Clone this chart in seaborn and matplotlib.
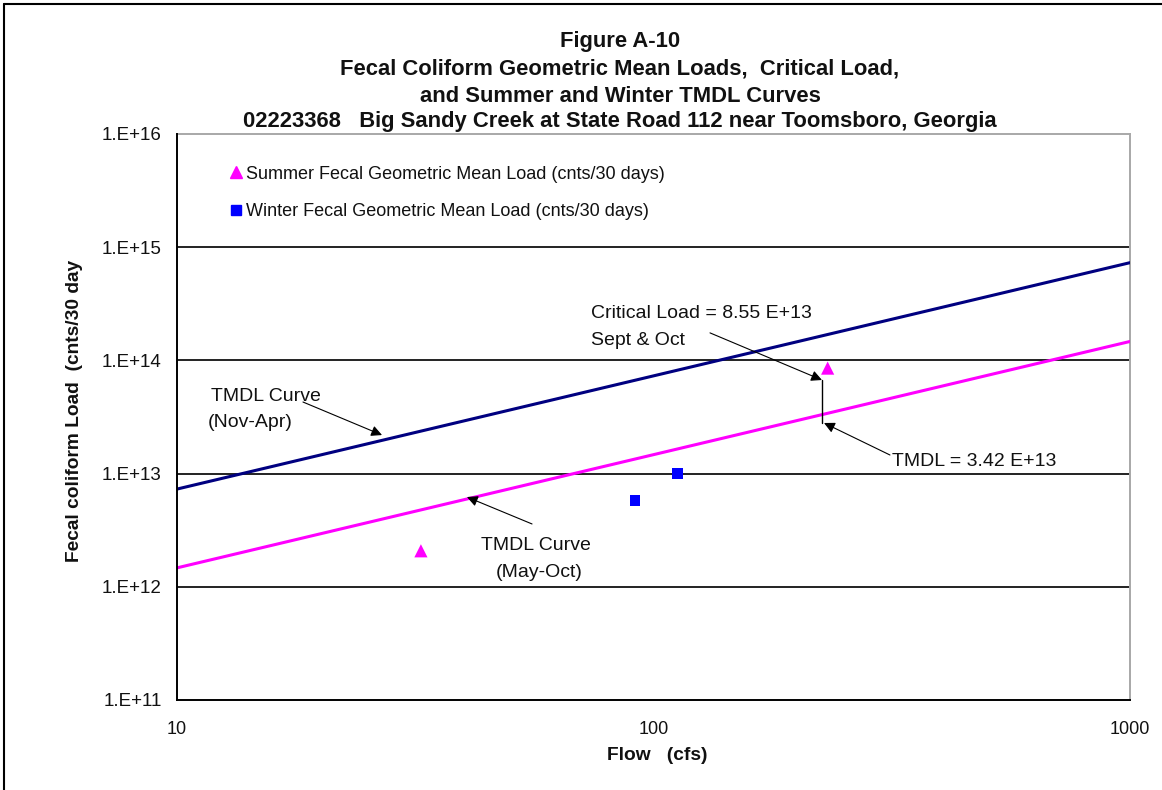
import matplotlib
matplotlib.use("Agg")
import matplotlib.pyplot as plt
import seaborn as sns
import pandas as pd
from matplotlib.lines import Line2D

# ---- data ----
curve_flow = [10, 1000]
winter_tmdl = [7.3e12, 7.3e14]   # TMDL Curve (Nov-Apr)
summer_tmdl = [1.47e12, 1.47e14]  # TMDL Curve (May-Oct)

summer_flow = [32.5, 232]
summer_load = [2.08e12, 8.55e13]
winter_flow = [91.4, 112.5]
winter_load = [5.78e12, 1.0e13]

y_ticks = [1e11, 1e12, 1e13, 1e14, 1e15, 1e16]
y_tick_labels = ["1.E+11", "1.E+12", "1.E+13", "1.E+14", "1.E+15", "1.E+16"]
x_ticks = [10, 100, 1000]
x_tick_labels = ["10", "100", "1000"]

title_lines = ["Figure A-10",
               "Fecal Coliform Geometric Mean Loads,  Critical Load,",
               "and Summer and Winter TMDL Curves",
               "02223368   Big Sandy Creek at State Road 112 near Toomsboro, Georgia"]

# annotation anchors (flow, load)
crit_flow = 225.7
crit_top, crit_bottom = 6.71e13, 2.80e13

sns.set_theme(style="white")
plt.rcParams["font.family"] = ["Liberation Sans", "DejaVu Sans"]

fig = plt.figure(figsize=(11.62, 7.90), dpi=100)
ax = fig.add_axes([177/1162, 1-700/790, (1130-177)/1162, (700-134)/790])

curves = pd.DataFrame({"flow": curve_flow * 2,
                       "load": winter_tmdl + summer_tmdl,
                       "curve": ["Nov-Apr"] * 2 + ["May-Oct"] * 2})
sns.lineplot(data=curves, x="flow", y="load", hue="curve",
             palette={"Nov-Apr": "#000080", "May-Oct": "#FF00FF"},
             linewidth=2.2, legend=False, ax=ax, zorder=3)

sns.scatterplot(x=summer_flow, y=summer_load, marker="^", s=90, color="#FF00FF",
                edgecolor="none", ax=ax, zorder=4)
sns.scatterplot(x=winter_flow, y=winter_load, marker="s", s=60, color="#0000FF",
                edgecolor="none", ax=ax, zorder=4)

ax.set_xscale("log")
ax.set_yscale("log")
ax.set_xlim(10, 1000)
ax.set_ylim(1e11, 1e16)
ax.set_xticks(x_ticks)
ax.set_xticklabels(x_tick_labels)
ax.set_yticks(y_ticks)
ax.set_yticklabels(y_tick_labels)
ax.minorticks_off()
ax.tick_params(axis="x", direction="out", length=5, width=1, colors="black",
               labelsize=13, pad=10, labelcolor="#111111")
ax.tick_params(axis="y", direction="inout", length=10, width=1, colors="black",
               labelsize=13.5, pad=6, labelcolor="#111111")
ax.set_xlabel("")
ax.set_ylabel("")

for y in y_ticks[1:-1]:
    ax.axhline(y, color="#222222", lw=1.4, zorder=1)

for s in ["left", "bottom"]:
    ax.spines[s].set_color("black")
    ax.spines[s].set_linewidth(1.4)
for s in ["top", "right"]:
    ax.spines[s].set_color("#a8a8a8")
    ax.spines[s].set_linewidth(1.4)
ax.spines["left"].set_zorder(5)

# legend
handles = [Line2D([], [], marker="^", color="#FF00FF", linestyle="none", markersize=9),
           Line2D([], [], marker="s", color="#0000FF", linestyle="none", markersize=7)]
labels = ["Summer Fecal Geometric Mean Load (cnts/30 days)",
          "Winter Fecal Geometric Mean Load (cnts/30 days)"]
leg = ax.legend(handles, labels, loc="upper left", bbox_to_anchor=(0.0378, 0.9726),
                frameon=False, handlelength=0.8, handletextpad=0.1,
                labelspacing=1.12, fontsize=13, borderpad=0.4)
for t in leg.get_texts():
    t.set_color("#111111")

# annotations
arrow_kw = dict(arrowstyle="-|>", color="black", lw=0.8, mutation_scale=16,
                shrinkA=0, shrinkB=0)
ax.annotate("", xy=(crit_flow, crit_top), xytext=(131.4, 1.75e14), arrowprops=arrow_kw)
ax.plot([crit_flow, crit_flow], [crit_top, crit_bottom], color="black", lw=1.0, zorder=5)
ax.annotate("", xy=(crit_flow * 1.01, crit_bottom), xytext=(313.5, 1.46e13), arrowprops=arrow_kw)
ax.annotate("", xy=(26.93, 2.19e13), xytext=(18.38, 4.29e13), arrowprops=arrow_kw)
ax.annotate("", xy=(40.6, 6.21e12), xytext=(55.6, 3.59e12), arrowprops=arrow_kw)

tfs = 14
ax.text(73.9, 2.62e14, "Critical Load = 8.55 E+13", fontsize=tfs, ha="left", va="center", color="#111111")
ax.text(73.9, 1.51e14, "Sept & Oct", fontsize=tfs, ha="left", va="center", color="#111111")
ax.text(316.6, 1.27e13, "TMDL = 3.42 E+13", fontsize=tfs, ha="left", va="center", color="#111111")
ax.text(15.38, 4.75e13, "TMDL Curve", fontsize=tfs, ha="center", va="center", color="#111111")
ax.text(14.23, 2.80e13, "(Nov-Apr)", fontsize=tfs, ha="center", va="center", color="#111111")
ax.text(56.7, 2.34e12, "TMDL Curve", fontsize=tfs, ha="center", va="center", color="#111111")
ax.text(57.5, 1.35e12, "(May-Oct)", fontsize=tfs, ha="center", va="center", color="#111111")

# titles
title_y = [42, 69, 96, 122]
for line, yp in zip(title_lines, title_y):
    fig.text(620/1162, 1-yp/790, line, ha="center", va="center", fontsize=15.8,
             fontweight="bold", color="#111111")

fig.text(657/1162, 1-756/790, "Flow   (cfs)", ha="center", va="center", fontsize=13.8,
         fontweight="bold", color="#111111")
fig.text(75/1162, 1-411/790, "Fecal coliform Load  (cnts/30 day", ha="center", va="center",
         rotation=90, fontsize=13.8, fontweight="bold", color="#111111")

# figure border (left and top)
fig.add_artist(Line2D([4/1162, 4/1162], [0, 1-4/790], transform=fig.transFigure, color="black", lw=1.5))
fig.add_artist(Line2D([4/1162, 1], [1-4/790, 1-4/790], transform=fig.transFigure, color="black", lw=1.5))

fig.savefig("out.png", dpi=100)
